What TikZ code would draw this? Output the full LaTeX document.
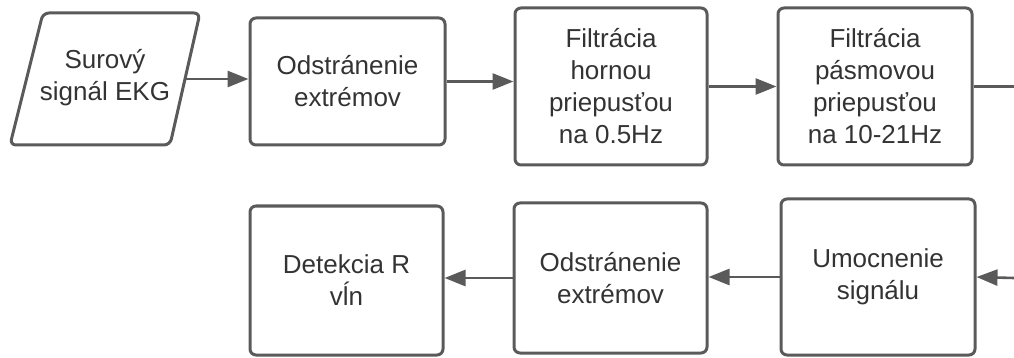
\documentclass[tikz,border=0pt]{standalone}
\usepackage{fontspec}
\setmainfont{Liberation Sans}
\usetikzlibrary{arrows.meta}
\definecolor{edge}{HTML}{5A5A5A}
\definecolor{txt}{HTML}{333333}
\tikzset{
  box/.style={draw=edge, line width=3pt, rounded corners=6pt, rectangle, align=center,
    inner sep=0pt, text=txt, font=\fontsize{26}{32}\selectfont},
  lbl/.style={align=center, inner sep=0pt, text=txt, font=\fontsize{26}{32}\selectfont},
  shapeline/.style={draw=edge, line width=3pt, rounded corners=6pt},
  arr/.style={draw=edge, line width=2.6pt, -{Triangle[length=21pt,width=16pt]}},
  ln/.style={draw=edge, line width=2.6pt}
}
\begin{document}
\begin{tikzpicture}[x=1pt,y=-1pt]
\useasboundingbox (0,0) rectangle (1014,358);
\draw[shapeline] (43,13) -- (200,13) -- (170,145) -- (10,145) -- cycle;
\node[lbl] (raw) at (105,78) {Surový\\signál EKG};
\coordinate (rawout) at (186,79);
\node[box, minimum width=195pt, minimum height=127pt] (ext1) at (347.5,81.5) {Odstránenie\\extrémov};
\node[box, minimum width=192pt, minimum height=157pt] (hp) at (611,86.5) {Filtrácia\\hornou\\priepusťou\\na 0.5Hz};
\node[box, minimum width=194pt, minimum height=157pt] (bp) at (875,86.5) {Filtrácia\\pásmovou\\priepusťou\\na 10-21Hz};
\node[box, minimum width=193pt, minimum height=149pt] (det) at (346.5,280.5) {Detekcia R\\vĺn};
\node[box, minimum width=193pt, minimum height=150pt] (ext2) at (610.5,278) {Odstránenie\\extrémov};
\node[box, minimum width=194pt, minimum height=156pt] (pow) at (878,277) {Umocnenie\\signálu};
\coordinate (outR) at (1014,86.5);
\coordinate (inR) at (1014,278);
\draw[arr] (rawout) -- (rawout -| ext1.west);
\draw[arr] (ext1.east) -- (ext1.east -| hp.west);
\draw[arr] (hp.east) -- (bp.west);
\draw[ln] (bp.east) -- (outR);
\draw[arr] (inR) -- (pow.east);
\draw[arr] (pow.west) -- (pow.west -| ext2.east);
\draw[arr] (ext2.west) -- (ext2.west -| det.east);
\end{tikzpicture}
\end{document}
